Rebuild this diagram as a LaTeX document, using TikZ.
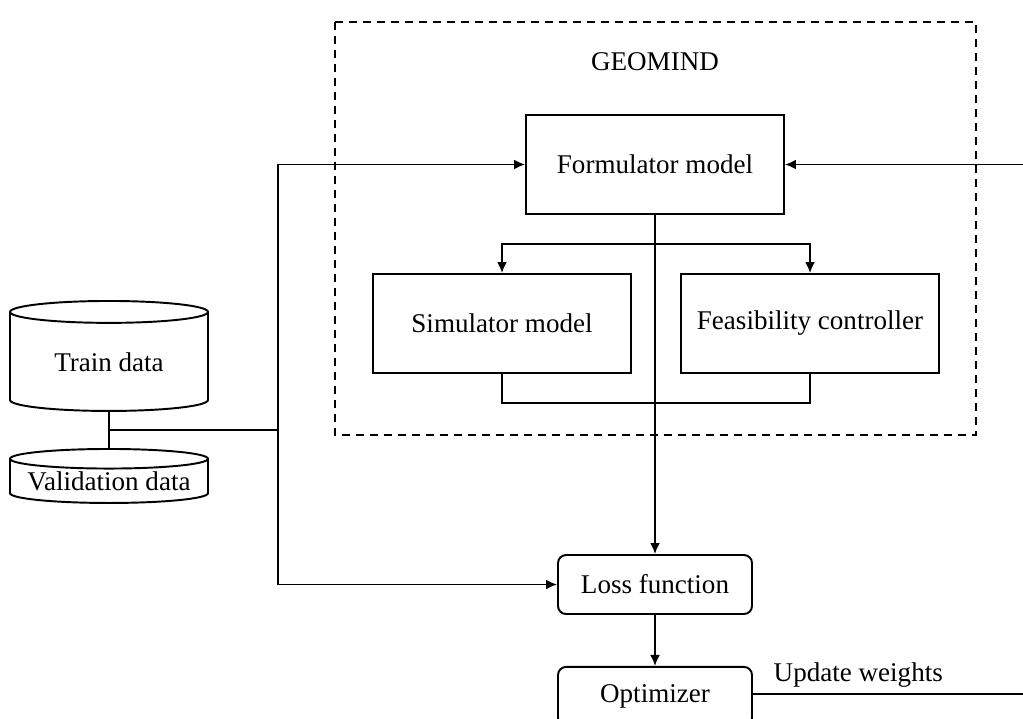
\documentclass[tikz,border=0pt]{standalone}
\usepackage{fontspec}
\setmainfont{Liberation Serif}
\usetikzlibrary{positioning,calc,arrows.meta,shapes.geometric}

\begin{document}
\begin{tikzpicture}
[x=0.02cm, y=-0.02cm, line width=1.1pt,
 every node/.style={font=\fontsize{15.4pt}{18pt}\selectfont},
 >={Latex[length=2.2mm,width=2mm]},
 model/.style={draw, rectangle, inner sep=0pt, minimum width=5.16cm, minimum height=1.98cm},
 stage/.style={draw, rectangle, rounded corners=1.6mm, inner sep=0pt, minimum width=3.88cm, minimum height=1.18cm},
 store/.style={draw, cylinder, shape border rotate=90, aspect=0.2, inner sep=0pt, minimum width=3.96cm},
 dashbox/.style={dash pattern=on 1.6mm off 1.2mm, line width=1pt}]
\clip (0,0) rectangle (1023,718);
% GEOMIND block
\draw[dashbox] (335,22) rectangle (976,435);
\node (geo) at (655,62) {GEOMIND};
\node[model] (form) at (655,164.5) {Formulator model};
\node[model] (sim) at (502,323.5) {Simulator model};
\node[model] (feas) at (810,323.5) {Feasibility controller};
% training loop
\node[stage] (loss) at (655,584.5) {Loss function};
\node[stage, below = 1.02cm of loss] (opt) {Optimizer};
% data
\node[store, anchor=north, minimum height=2.2cm] (train) at (109,300) {Train data};
\node[store, anchor=north, aspect=0.12, text depth=0pt, inner ysep=-0.08cm, minimum height=1.08cm] (valid) at (109,448) {Validation data};
\coordinate[below = 0.58cm of form] (fork);
\coordinate (tap) at ($(train.south)!0.5!(valid.north)$);
\coordinate (bus) at ($(tap)+(169,0)$);
\coordinate (win) at (1023,164.5);
\coordinate (wout) at (1023,694);
\draw (train) -- (valid);
\draw (tap) -- (bus);
\draw[->] (bus) |- (form);
\draw[->] (bus) |- (loss);
\draw[->] (form) -- (loss);
\draw[->] (fork) -| (sim);
\draw[->] (fork) -| (feas);
\draw (sim.south) -- ++(0,29) -| (feas.south);
\draw[->] (win) -- (form);
\draw[->] (loss) -- (opt);
\draw (opt.east |- wout) -- node[above, pos=0.39]{Update weights} (wout);
\end{tikzpicture}
\end{document}
